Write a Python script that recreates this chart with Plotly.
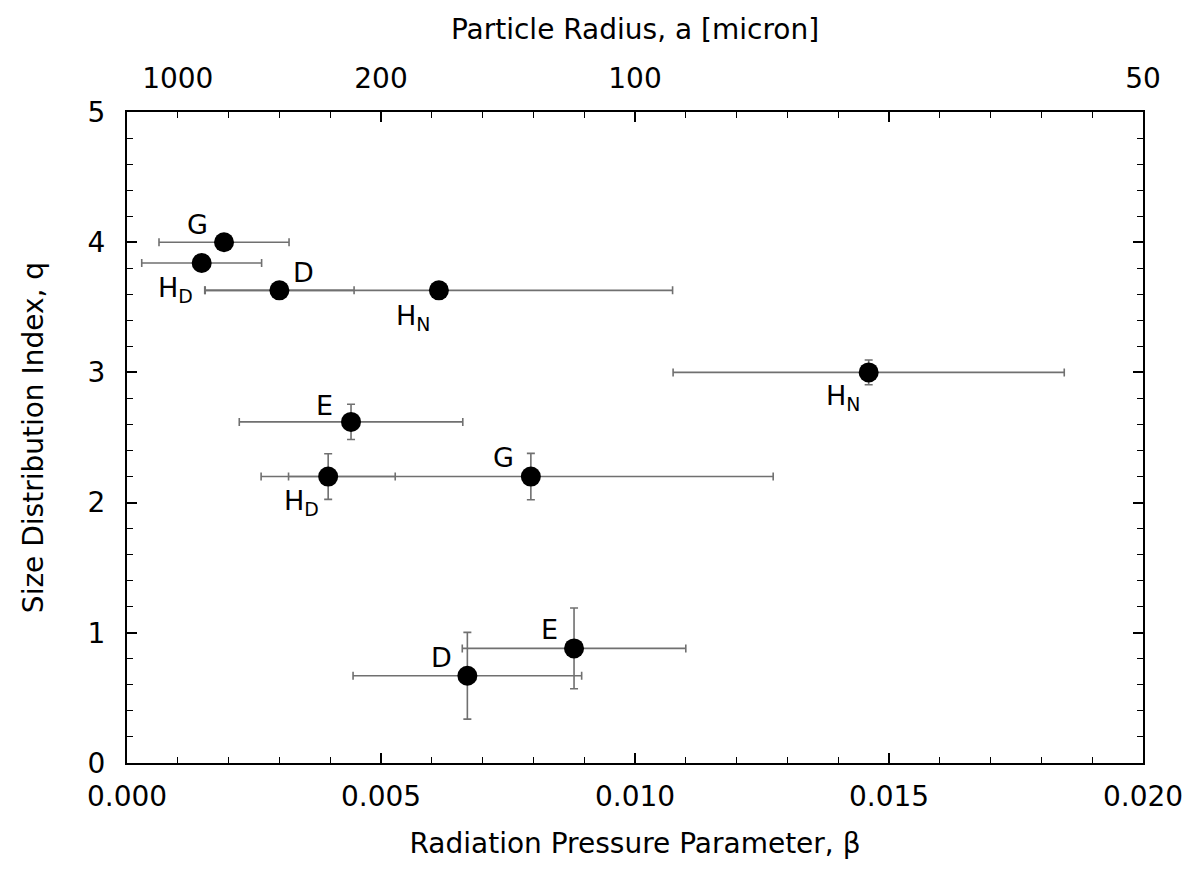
import plotly.graph_objects as go

# Data
labels = ["G", "H<sub>D</sub>", "D", "H<sub>N</sub>", "H<sub>N</sub>", "E", "H<sub>D</sub>", "G", "E", "D"]
beta = [0.00191, 0.00147, 0.00300, 0.00614, 0.01460, 0.00441, 0.00396, 0.00795, 0.00880, 0.00670]
beta_err = [0.00128, 0.00118, 0.00147, 0.00460, 0.00385, 0.00220, 0.00132, 0.00477, 0.00220, 0.00225]
q = [4.00, 3.84, 3.63, 3.63, 3.00, 2.62, 2.20, 2.20, 0.88, 0.67]
q_err = [0.0, 0.0, 0.0, 0.0, 0.095, 0.135, 0.175, 0.178, 0.31, 0.333]

# label offsets relative to each point (pixels)
lab_dx = [-27, -26, 24, -26, -26, -27, -27, -27, -25, -26]
lab_dy = [18, -26, 18, -27, -25, 16, -26, 19, 19, 18]

top_vals = [0.001, 0.005, 0.010, 0.020]
top_text = ["1000", "200", "100", "50"]

FONT = "DejaVu Sans, Verdana, sans-serif"
FS = 28

fig = go.Figure()
fig.add_trace(go.Scatter(
    x=beta, y=q, mode="markers",
    marker=dict(color="black", size=20),
    error_x=dict(type="data", array=beta_err, visible=True, color="#707070", thickness=1.6, width=4),
    error_y=dict(type="data", array=q_err, visible=True, color="#707070", thickness=1.6, width=4),
    showlegend=False, hoverinfo="skip",
))
# invisible trace on top axis so it is drawn
fig.add_trace(go.Scatter(x=[0, 0.02], y=[0, 0], xaxis="x2", mode="markers",
                         marker=dict(opacity=0), showlegend=False, hoverinfo="skip"))

for lab, bx, qy, dx, dy in zip(labels, beta, q, lab_dx, lab_dy):
    fig.add_annotation(x=bx, y=qy, text=lab, showarrow=False, xshift=dx, yshift=dy,
                       font=dict(size=27, color="black", family=FONT))

axis_common = dict(
    showline=True, linecolor="black", linewidth=2, showgrid=False, zeroline=False,
    ticks="inside", tickcolor="black", tickwidth=1.5, ticklen=10,
    tickfont=dict(size=FS, color="black", family=FONT),
)

fig.update_layout(
    width=1190, height=871,
    margin=dict(l=119, r=55, t=104, b=116, autoexpand=False),
    plot_bgcolor="white", paper_bgcolor="white",
    font=dict(family=FONT, color="black"),
    xaxis=dict(
        range=[0, 0.02], tickvals=[0, 0.005, 0.01, 0.015, 0.02], tickformat=".3f",
        mirror="ticks", ticklabelstandoff=7,
        minor=dict(dtick=0.001, ticks="inside", ticklen=6, tickcolor="black", tickwidth=1.2),
        title=dict(text="Radiation Pressure Parameter, β", font=dict(size=FS, family=FONT), standoff=22),
        **axis_common,
    ),
    xaxis2=dict(
        range=[0, 0.02], overlaying="x", side="top", matches="x",
        tickmode="array", tickvals=top_vals, ticktext=top_text,
        showline=False, showgrid=False, zeroline=False, ticks="", ticklabelstandoff=17,
        tickfont=dict(size=FS, color="black", family=FONT),
        title=dict(text="Particle Radius, a [micron]", font=dict(size=FS, family=FONT), standoff=14),
    ),
    yaxis=dict(
        range=[0, 5], dtick=1, mirror="ticks", ticklabelstandoff=14,
        minor=dict(dtick=0.2, ticks="inside", ticklen=6, tickcolor="black", tickwidth=1.2),
        title=dict(text="Size Distribution Index, q", font=dict(size=FS, family=FONT), standoff=36),
        **axis_common,
    ),
)

fig.write_html("out.html")
